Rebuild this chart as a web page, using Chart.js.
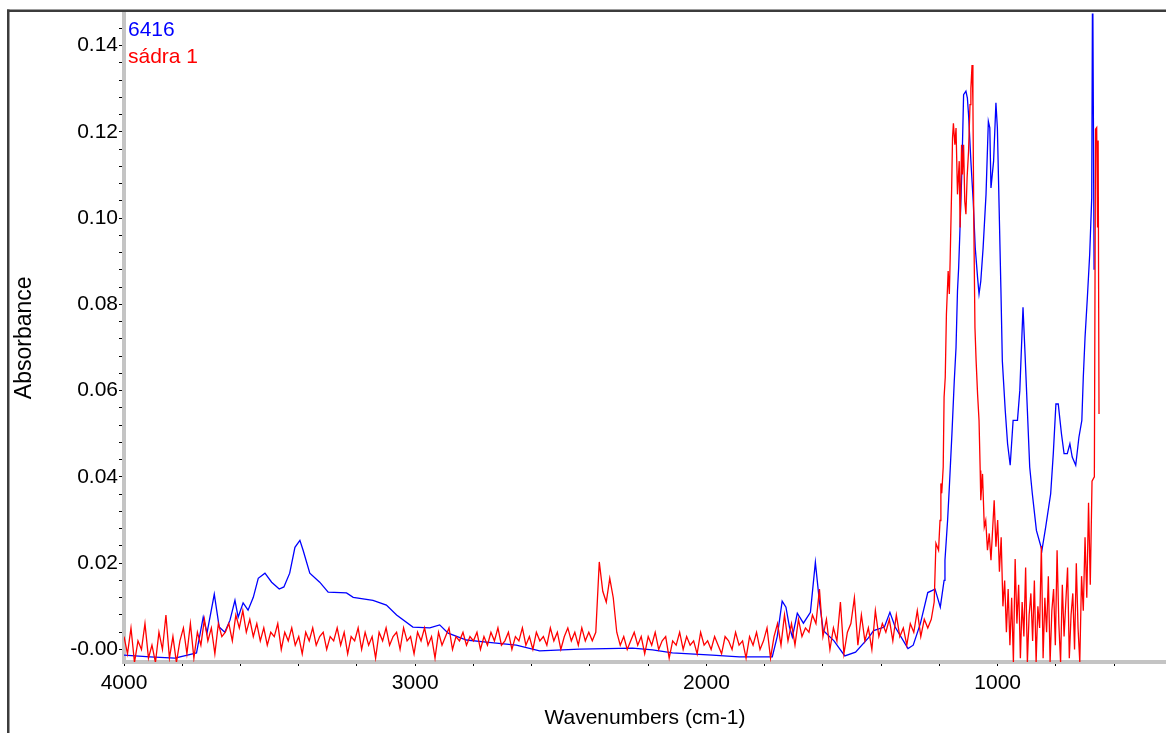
<!DOCTYPE html>
<html>
<head>
<meta charset="utf-8">
<title>6416 / sádra 1</title>
<script src="https://cdn.jsdelivr.net/npm/chart.js@4.4.1/dist/chart.umd.min.js"></script>
<style>
  html, body { margin: 0; padding: 0; background: #fff; }
  #spectrum { display: block; }
</style>
</head>
<body>
<canvas id="spectrum" width="1166" height="733"></canvas>
<script>
// blue spectrum 6416 (wavenumber cm-1 / absorbance)
var blueWave = [4000, 3911, 3825, 3751, 3728, 3715, 3690, 3673, 3654, 3636,
  3619, 3608, 3591, 3574, 3556, 3539, 3516, 3493, 3467, 3451,
  3431, 3413, 3396, 3385, 3362, 3328, 3299, 3236, 3213, 3145,
  3099, 3064, 3008, 2950, 2916, 2887, 2824, 2756, 2653, 2573,
  2436, 2254, 2185, 2117, 1980, 1887, 1774, 1757, 1740, 1727,
  1715, 1705, 1688, 1667, 1643, 1626, 1612, 1599, 1562, 1525,
  1488, 1444, 1426, 1389, 1370, 1352, 1308, 1290, 1265, 1240,
  1215, 1197, 1184, 1181, 1172, 1166, 1157, 1149, 1143, 1138,
  1134, 1130, 1123, 1117, 1109, 1104, 1100, 1092, 1084, 1077,
  1069, 1064, 1058, 1050, 1040, 1032, 1027, 1023, 1014, 1006,
  1001, 995, 989, 984, 974, 966, 957, 947, 932, 924,
  917, 913, 906, 898, 890, 881, 867, 848, 835, 818,
  809, 800, 792, 781, 772, 761, 752, 744, 732, 721,
  711, 706, 700, 692, 684, 677, 674, 671, 669];
var blueAbs = [-0.0013, -0.0017, -0.0020, -0.0008, 0.0075, 0.0038, 0.0128, 0.0052, 0.0040, 0.0068,
  0.0114, 0.0075, 0.0108, 0.0091, 0.0121, 0.0165, 0.0177, 0.0156, 0.0140, 0.0145,
  0.0177, 0.0237, 0.0253, 0.0230, 0.0177, 0.0156, 0.0133, 0.0131, 0.0121, 0.0114,
  0.0103, 0.0080, 0.0052, 0.0050, 0.0057, 0.0038, 0.0022, 0.0017, 0.0010, -0.0003,
  0.0001, 0.0003, -0.0001, -0.0008, -0.0013, -0.0017, -0.0017, 0.0030, 0.0112, 0.0098,
  0.0052, 0.0029, 0.0084, 0.0061, 0.0086, 0.0202, 0.0110, 0.0044, 0.0020, -0.0015,
  -0.0006, 0.0027, 0.0044, 0.0052, 0.0086, 0.0052, 0.0002, 0.0010, 0.0061, 0.0132,
  0.0140, 0.0098, 0.0160, 0.0207, 0.0299, 0.0376, 0.0501, 0.0623, 0.0700, 0.0831,
  0.0885, 0.0963, 0.1109, 0.1286, 0.1294, 0.1278, 0.1240, 0.1132, 0.1039, 0.0931,
  0.0862, 0.0824, 0.0854, 0.0931, 0.1055, 0.1224, 0.1209, 0.1070, 0.1132, 0.1267,
  0.1209, 0.1024, 0.0839, 0.0669, 0.0554, 0.0477, 0.0427, 0.0531, 0.0531, 0.0600,
  0.0723, 0.0793, 0.0685, 0.0554, 0.0423, 0.0361, 0.0276, 0.0230, 0.0284, 0.0361,
  0.0454, 0.0569, 0.0569, 0.0500, 0.0454, 0.0454, 0.0477, 0.0446, 0.0427, 0.0492,
  0.0531, 0.0631, 0.0723, 0.0816, 0.0916, 0.1047, 0.1600, 0.1185, 0.0880];

// red spectrum sádra 1, noisy part sampled every 12 cm-1 from 4000 down to 1228
var redGridStart = 4000;
var redGridStep = 12;
var redGridAbs = [
  0.003, -0.001, 0.005, -0.003, 0.002, 0.000, 0.006, -0.002, 0.001, -0.003,
  0.004, 0.000, 0.008, -0.002, 0.003, -0.003, 0.002, 0.005, -0.001, 0.006,
  -0.002, 0.004, 0.001, 0.007, 0.002, 0.005, -0.001, 0.006, 0.003, 0.004,
  0.006, 0.002, 0.008, 0.005, 0.009, 0.004, 0.007, 0.003, 0.006, 0.002,
  0.005, 0.001, 0.004, 0.003, 0.006, 0.000, 0.004, 0.002, 0.005, 0.001,
  0.003, -0.001, 0.004, 0.002, 0.005, 0.001, 0.003, 0.004, 0.000, 0.003,
  0.002, 0.005, 0.001, 0.004, -0.001, 0.003, 0.002, 0.005, 0.000, 0.004,
  0.001, 0.003, -0.002, 0.004, 0.002, 0.005, 0.001, 0.003, 0.004, 0.000,
  0.005, 0.002, 0.003, -0.001, 0.004, 0.002, 0.005, 0.001, 0.003, -0.002,
  0.004, 0.001, 0.003, 0.005, 0.000, 0.003, 0.002, 0.004, 0.001, 0.003,
  0.002, 0.004, 0.000, 0.003, 0.001, 0.004, 0.002, 0.005, 0.001, 0.002,
  0.004, 0.000, 0.003, 0.002, 0.005, 0.001, 0.003, 0.000, 0.004, 0.002,
  0.003, 0.001, 0.005, 0.002, 0.004, 0.000, 0.003, 0.005, 0.002, 0.004,
  0.001, 0.005, 0.002, 0.004, 0.002, 0.004, 0.0203, 0.0135, 0.011, 0.0165,
  0.012, 0.004, 0.001, 0.003, 0.000, 0.002, 0.004, 0.001, 0.003, -0.001,
  0.003, 0.001, 0.004, 0.000, 0.002, 0.003, -0.002, 0.002, 0.001, 0.004,
  0.000, 0.003, 0.001, 0.002, -0.001, 0.004, 0.001, 0.002, 0.000, 0.003,
  0.001, -0.001, 0.003, 0.002, 0.000, 0.004, 0.001, 0.002, -0.002, 0.003,
  0.001, 0.004, 0.000, 0.002, 0.005, -0.002, 0.003, 0.006, 0.001, 0.008,
  0.002, 0.006, 0.001, 0.007, 0.003, 0.005, 0.004, 0.008, 0.006, 0.014,
  0.003, 0.007, 0.000, 0.005, 0.002, 0.011, -0.001, 0.004, 0.006, 0.012,
  0.001, 0.008, 0.002, 0.005, 0.000, 0.009, 0.003, 0.006, 0.004, 0.007,
  0.002, 0.008, 0.003, 0.005, 0.001, 0.006, 0.004, 0.009, 0.003, 0.007,
  0.005, 0.007];

// red main band
var redBandWave = [1218, 1212, 1203, 1198, 1195, 1192, 1187, 1184, 1180, 1176,
  1170, 1166, 1163, 1158, 1155, 1152, 1147, 1143, 1138, 1132,
  1129, 1124, 1121, 1117, 1113, 1109, 1105, 1100, 1095, 1092,
  1088, 1085, 1082, 1078, 1074, 1069, 1064, 1060, 1058, 1052,
  1046, 1041, 1035, 1029, 1023, 1012, 1006];
var redBandAbs = [0.011, 0.0246, 0.0230, 0.0299, 0.0385, 0.0362, 0.0423, 0.0585, 0.0631, 0.0777,
  0.0877, 0.0824, 0.0908, 0.1070, 0.1186, 0.1220, 0.1170, 0.1209, 0.1055, 0.1132,
  0.0978, 0.1170, 0.1101, 0.1170, 0.1039, 0.1009, 0.1093, 0.1155, 0.1263, 0.1301,
  0.1355, 0.1270, 0.0993, 0.0746, 0.0669, 0.0592, 0.0531, 0.0415, 0.0346, 0.0407,
  0.0284, 0.0299, 0.0230, 0.0269, 0.0207, 0.0346, 0.0238];

// red low-wavenumber noise, every 6 cm-1 from 1000 down to 676
var redTailStart = 1000;
var redTailStep = 6;
var redTailAbs = [
  0.030, 0.018, 0.026, 0.010, 0.016, 0.004, 0.014, 0.001, 0.012, -0.003,
  0.021, 0.006, 0.015, -0.002, 0.011, 0.003, 0.019, -0.003, 0.008, 0.013,
  0.002, 0.016, -0.003, 0.010, 0.005, 0.024, -0.002, 0.012, 0.004, 0.017,
  -0.003, 0.009, 0.014, 0.001, 0.023, 0.006, -0.003, 0.015, 0.003, 0.011,
  0.019, -0.002, 0.008, 0.013, 0.000, 0.020, 0.005, -0.003, 0.017, 0.009,
  0.026, 0.012, 0.034, 0.015, 0.039];

// red end spike
var redEndWave = [668, 664, 660, 657, 655, 652];
var redEndAbs = [0.040, 0.1206, 0.1210, 0.0978, 0.1180, 0.0546];

// axis ticks: labelled values and minor tick spacing
var yLabelValues = [0, 0.02, 0.04, 0.06, 0.08, 0.10, 0.12, 0.14];
var yTickLabels = ['-0.00', '0.02', '0.04', '0.06', '0.08', '0.10', '0.12', '0.14'];
var yMinorStep = 0.004;
var xLabelValues = [1000, 2000, 3000, 4000];
var xTickLabels = ['1000', '2000', '3000', '4000'];
var xMinorStep = 200;

var seriesNames = ['6416', 'sádra 1'];
var seriesColors = ['#0000ff', '#ff0000'];

var bluePoints = blueWave.map(function (w, i) { return { x: w, y: blueAbs[i] }; });
var redPoints = [];
redGridAbs.forEach(function (a, i) { redPoints.push({ x: redGridStart - i * redGridStep, y: a }); });
redBandWave.forEach(function (w, i) { redPoints.push({ x: w, y: redBandAbs[i] }); });
redTailAbs.forEach(function (a, i) { redPoints.push({ x: redTailStart - i * redTailStep, y: a }); });
redEndWave.forEach(function (w, i) { redPoints.push({ x: w, y: redEndAbs[i] }); });

// tick positions inside each axis range
function stepTicks(scale, step) {
  var out = [];
  var first = Math.ceil(scale.min / step - 1e-9);
  var last = Math.floor(scale.max / step + 1e-9);
  for (var k = first; k <= last; k++) {
    out.push({ value: Math.round(k * step * 1e6) / 1e6 });
  }
  scale.ticks = out;
}

function labelFor(value, values, labels) {
  for (var i = 0; i < values.length; i++) {
    if (Math.abs(values[i] - value) < 1e-6) return labels[i];
  }
  return '';
}

Chart.defaults.font.family = "'Liberation Sans', Arial, sans-serif";
Chart.defaults.color = '#000';

// dark frame + series names in the top-left corner
var frameAndNames = {
  id: 'frameAndNames',
  afterDraw: function (chart) {
    var ctx = chart.ctx;
    ctx.save();
    ctx.fillStyle = '#3c3c3c';
    ctx.fillRect(7, 9.5, chart.width - 7, 2.5);
    ctx.fillRect(7, 9.5, 2.5, chart.height - 9.5);
    ctx.font = "21px 'Liberation Sans', Arial, sans-serif";
    ctx.textBaseline = 'middle';
    ctx.textAlign = 'left';
    chart.data.datasets.forEach(function (ds, i) {
      ctx.fillStyle = ds.borderColor;
      ctx.fillText(ds.label, 128, 30 + i * 27.5);
    });
    ctx.restore();
  }
};

var spectrumChart = new Chart(document.getElementById('spectrum'), {
  type: 'line',
  data: {
    datasets: [{
      label: seriesNames[0],
      data: bluePoints,
      borderColor: seriesColors[0],
      borderWidth: 1.3,
      pointRadius: 0,
      tension: 0,
      order: 1
    }, {
      label: seriesNames[1],
      data: redPoints,
      borderColor: seriesColors[1],
      borderWidth: 1.3,
      pointRadius: 0,
      tension: 0,
      order: 0
    }]
  },
  options: {
    responsive: false,
    animation: false,
    devicePixelRatio: 1,
    layout: { padding: { top: 11, left: 0, right: 0, bottom: 0 } },
    plugins: {
      legend: { display: false },
      tooltip: { enabled: false }
    },
    scales: {
      x: {
        type: 'linear',
        reverse: true,
        min: 422,
        max: 4000,
        afterBuildTicks: function (scale) { stepTicks(scale, xMinorStep); },
        afterFit: function (scale) { scale.height = 71; },
        border: { color: '#c4c4c4', width: 4 },
        grid: { drawOnChartArea: false, tickLength: 4, tickColor: '#000', tickWidth: 1 },
        ticks: {
          autoSkip: false,
          maxRotation: 0,
          padding: 5,
          font: { size: 21 },
          callback: function (value) { return labelFor(value, xLabelValues, xTickLabels); }
        },
        title: {
          display: true,
          text: 'Wavenumbers (cm-1)',
          font: { size: 21 },
          padding: { top: 0, bottom: 2 }
        }
      },
      y: {
        type: 'linear',
        min: -0.0029,
        max: 0.1474,
        afterBuildTicks: function (scale) { stepTicks(scale, yMinorStep); },
        afterFit: function (scale) { scale.width = 124; },
        border: { color: '#c4c4c4', width: 4 },
        grid: { drawOnChartArea: false, tickLength: 5, tickColor: '#000', tickWidth: 1 },
        ticks: {
          autoSkip: false,
          padding: 1,
          font: { size: 21 },
          callback: function (value) { return labelFor(value, yLabelValues, yTickLabels); }
        },
        title: {
          display: true,
          text: 'Absorbance',
          font: { size: 23 },
          padding: { top: 11, bottom: 0 }
        }
      }
    }
  },
  plugins: [frameAndNames]
});
</script>
</body>
</html>
